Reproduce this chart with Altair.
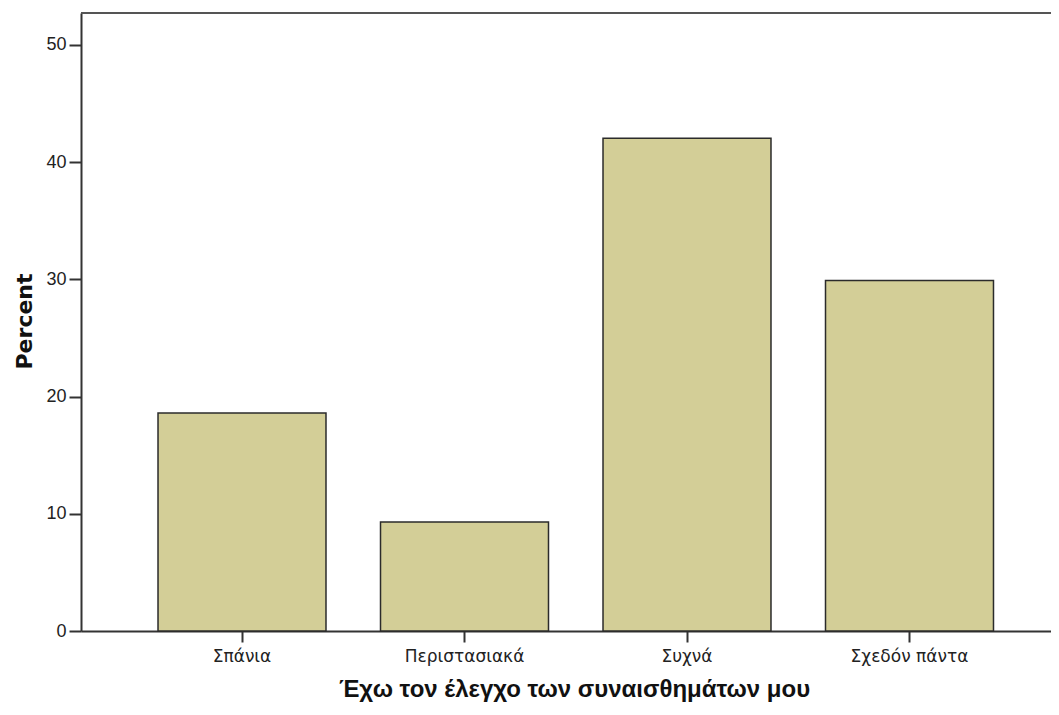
import altair as alt
import pandas as pd

categories = ["Σπάνια", "Περιστασιακά", "Συχνά", "Σχεδόν πάντα"]
percents = [18.6, 9.3, 42.05, 29.9]
y_ticks = [0, 10, 20, 30, 40, 50]

df = pd.DataFrame({"cat": categories, "pct": percents})

W, H = 970, 618

bars = alt.Chart(df).mark_bar(
    color="#d3ce97", stroke="#2b2b2b", strokeWidth=1.5
).encode(
    x=alt.X("cat:N", sort=categories,
            scale=alt.Scale(paddingInner=0.245, paddingOuter=0.3023, align=0.5725),
            axis=alt.Axis(title="Έχω τον έλεγχο των συναισθημάτων μου",
                          labelAngle=0, tickSize=11, labelPadding=6,
                          labelFont="DejaVu Sans", labelFontSize=17, labelColor="#222",
                          titleFont="Liberation Sans", titleFontSize=24, titleFontWeight="bold",
                          titleColor="#111", titleX=493, titleY=65, titleBaseline="alphabetic",
                          titleAlign="center",
                          domainColor="#333", domainWidth=2, tickColor="#333", tickWidth=2)),
    y=alt.Y("pct:Q", scale=alt.Scale(domain=[0, 52.73], nice=False, zero=True),
            axis=alt.Axis(title="Percent", values=y_ticks, grid=False, tickSize=12,
                          labelPadding=3, labelFont="Liberation Sans", labelFontSize=18,
                          labelColor="#222",
                          titleFont="DejaVu Sans", titleFontSize=22, titleFontWeight="bold",
                          titleColor="#111", titleX=-57, titleY=H / 2 - 1, titleAngle=270,
                          titleAlign="center", titleBaseline="middle",
                          domainColor="#333", domainWidth=2, tickColor="#333", tickWidth=2)),
)

top_border = alt.Chart(df).mark_rule(color="#555", strokeWidth=2).encode(
    x=alt.value(0), x2=alt.value(W), y=alt.value(0)
)

chart = alt.layer(bars, top_border).properties(
    width=W, height=H,
    autosize=alt.AutoSizeParams(type="none"),
    padding={"left": 73, "top": 5, "right": 0, "bottom": 73},
).configure_view(
    fill="#efefef", stroke=None
).configure(background="white")

chart.save("out.html", embed_options={"renderer": "svg", "actions": False})
